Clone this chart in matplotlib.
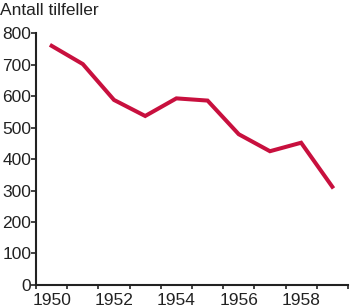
import matplotlib
matplotlib.use('Agg')
import matplotlib.pyplot as plt

plt.rcParams['font.family'] = ['Liberation Sans', 'DejaVu Sans']

# Data: cases per year (plotted at mid-year)
years = [1950, 1951, 1952, 1953, 1954, 1955, 1956, 1957, 1958, 1959]
cases = [760, 702, 588, 537, 593, 586, 479, 425, 452, 312]
x_ticks = [1950, 1951, 1952, 1953, 1954, 1955, 1956, 1957, 1958, 1959, 1960]
label_years = [1950, 1952, 1954, 1956, 1958]
y_ticks = [0, 100, 200, 300, 400, 500, 600, 700, 800]

fig = plt.figure(figsize=(3.5, 3.08), dpi=100)
ax = fig.add_axes([0.103, 0.075, 0.891, 0.817])

ax.plot([y + 0.5 for y in years], cases, color='#c8103e', linewidth=2.9,
        solid_joinstyle='miter', clip_on=False)

ax.set_xlim(1950, 1960)
ax.set_ylim(0, 800)
# tick marks at year boundaries, labels centred on the year
ax.set_xticks(x_ticks)
ax.set_xticklabels([])
ax.set_xticks([y + 0.5 for y in label_years], minor=True)
ax.set_xticklabels([str(y) for y in label_years], minor=True)
ax.set_yticks(y_ticks)

for s in ['top', 'right']:
    ax.spines[s].set_visible(False)
for s in ['left', 'bottom']:
    ax.spines[s].set_linewidth(1.5)
    ax.spines[s].set_color('#222222')
ax.tick_params(axis='both', which='major', length=3.5, width=1.2,
               color='#222222', labelsize=12.5, pad=0, labelcolor='#222222')
ax.tick_params(axis='x', which='major', length=3)
ax.tick_params(axis='x', which='minor', length=0, labelsize=12.5, pad=5.5,
               labelcolor='#222222')

fig.text(0.0, 0.967, 'Antall tilfeller', fontsize=12.5, ha='left', va='center',
         color='#222222')

fig.savefig('out.png', dpi=100)
